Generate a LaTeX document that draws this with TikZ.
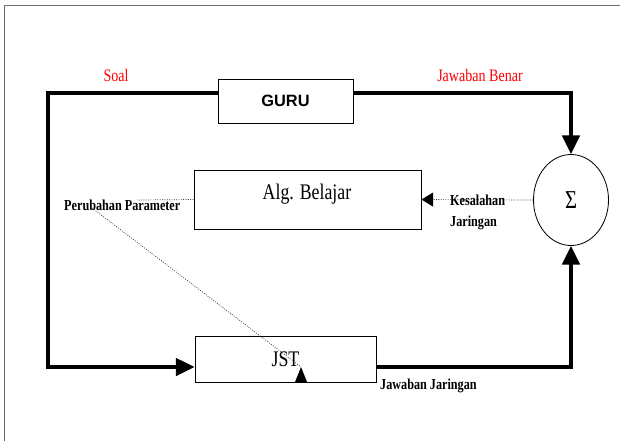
\documentclass[tikz,border=0pt]{standalone}
\usepackage{fontspec}
\setmainfont{Liberation Serif}
\setsansfont{Liberation Sans}
\newfontfamily\tallserif[FakeStretch=0.8]{Liberation Serif}
\usepackage{tikz}
\usetikzlibrary{arrows.meta,positioning,shapes.geometric,calc}
\definecolor{framegray}{RGB}{110,110,110}
\definecolor{dotgray}{RGB}{60,60,60}

\begin{document}
\begin{tikzpicture}[
  x=0.03cm, y=-0.03cm,
  box/.style={draw=black, line width=0.8pt, inner sep=0pt, font=\fontsize{16}{18}\selectfont},
  mainline/.style={line width=2.6pt, -{Triangle[length=16pt, width=15pt]}},
  feed/.style={draw=dotgray, line width=0.6pt, dash pattern=on 0.8pt off 1.2pt},
  redlabel/.style={text=red, font=\tallserif\fontsize{15}{17}\selectfont},
  sidelabel/.style={font=\tallserif\bfseries\fontsize{13}{16}\selectfont, inner sep=0pt, align=left}
]
  \useasboundingbox (0,0) rectangle (620,441);
  % frame
  \draw[framegray, line width=0.8pt] (4,441) -- (4,5) -- (620,5);

  \node[box, minimum width=4.05cm, minimum height=1.32cm, font=\sffamily\bfseries\fontsize{14}{16}\selectfont] (guru) at (285.5,101) {GURU};
  \node[box, minimum width=6.81cm, minimum height=1.77cm] (alg) at (307.5,199.5) {};
  \node[font=\tallserif\fontsize{19}{21}\selectfont] (algtext) at (307,194) {Alg. Belajar};
  \node[box, minimum width=5.43cm, minimum height=1.38cm, font=\tallserif\fontsize{19}{21}\selectfont] (jst) at (285.5,359) {JST};
  \node[ellipse, draw=black, line width=0.7pt, minimum width=2.25cm, minimum height=2.73cm, inner sep=0pt, font=\tallserif\fontsize{22}{24}\selectfont] (sum) at (571,200) {Σ};

  \coordinate (tl) at (48,93);
  \coordinate (bl) at (48,367);

  % main loop
  \draw[mainline] (guru.west |- tl) -- (tl) -- (bl) -- (jst.west |- bl);
  \draw[mainline] (guru.east |- tl) -| (sum.north);
  \draw[mainline] (jst.east |- bl) -| (sum.south);

  \node[redlabel] (soal) at (116,75) {Soal};
  \node[redlabel] (benar) at (480,75) {Jawaban Benar};

  % error and parameter feedback
  \draw[feed, -{Triangle[length=10pt, width=12pt, color=black]}] (sum.west) -- (alg.east);
  \node[sidelabel, anchor=west] (err) at (450,212) {Kesalahan\\[2pt]Jaringan};

  \coordinate (pend) at (137,200);
  \draw[feed] (alg.west) -- (pend);
  \node[sidelabel, anchor=west] (param) at (64,205) {Perubahan Parameter};

  \coordinate (pstart) at (92,208);
  \coordinate (ptip) at (301,367);
  \draw[feed] (pstart) -- (ptip);
  \fill (ptip) -- ++(-6,15) -- ++(12,0) -- cycle;

  \node[sidelabel, anchor=west] (out) at (380,386) {Jawaban Jaringan};
\end{tikzpicture}
\end{document}
